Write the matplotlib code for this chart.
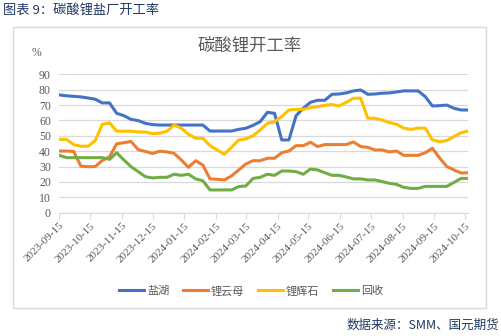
import numpy as np
import pandas as pd
import matplotlib
matplotlib.use('Agg')
import matplotlib.pyplot as plt
import matplotlib.dates as mdates
from matplotlib.patches import Rectangle

plt.rcParams['font.family'] = ['Noto Sans CJK SC', 'DejaVu Sans']

# weekly data, 2023-09-15 onward
dates = pd.date_range('2023-09-15', periods=58, freq='7D')

salt_lake = [76.6, 76.0, 75.7, 75.3, 74.6, 73.8, 71.4, 71.4, 64.6, 63.1,
             60.7, 59.9, 58.1, 57.3, 57.0, 57.0, 57.0, 57.0, 57.0, 57.0,
             57.0, 53.1, 53.1, 53.1, 53.1, 54.2, 54.9, 56.8, 59.2, 65.3,
             64.6, 47.3, 47.3, 63.1, 67.9, 71.8, 73.1, 73.1, 77.0, 77.2,
             77.9, 79.2, 79.8, 77.0, 77.2, 77.7, 77.9, 78.5, 79.2, 79.2,
             79.2, 75.5, 69.4, 69.6, 70.0, 67.9, 66.8, 66.8]
lepidolite = [40.1, 40.1, 39.8, 30.3, 29.9, 30.0, 34.0, 36.4, 44.8, 45.5,
              46.3, 41.0, 39.8, 38.5, 40.0, 39.5, 38.6, 34.3, 29.5, 33.8,
              31.0, 22.0, 21.7, 21.3, 23.9, 27.8, 31.7, 33.8, 33.8, 35.4,
              35.4, 39.0, 40.1, 43.6, 43.6, 45.8, 43.0, 44.3, 44.3, 44.3,
              44.3, 46.0, 43.0, 42.5, 40.8, 40.8, 39.5, 40.1, 37.3, 37.3,
              37.3, 39.0, 41.9, 35.6, 30.0, 27.8, 25.8, 26.0]
spodumene = [47.7, 47.7, 44.3, 43.2, 43.2, 46.9, 57.5, 58.4, 53.0, 53.0,
             53.0, 52.5, 52.5, 51.4, 51.7, 53.0, 57.0, 55.0, 51.0, 48.4,
             48.4, 43.6, 40.8, 38.0, 42.5, 47.3, 48.0, 50.0, 53.8, 58.1,
             59.2, 62.5, 66.8, 67.2, 67.2, 68.3, 69.0, 69.8, 70.3, 69.4,
             71.8, 74.4, 74.5, 61.4, 61.4, 60.3, 58.6, 57.5, 55.0, 54.2,
             55.0, 55.0, 47.3, 46.2, 46.9, 49.5, 52.0, 53.1]
recycling = [37.3, 35.8, 35.8, 35.8, 35.8, 35.8, 35.8, 34.7, 39.0, 34.3,
             29.9, 26.7, 23.4, 22.6, 23.0, 23.0, 25.0, 24.3, 25.0, 22.0,
             20.8, 14.8, 14.8, 14.8, 14.8, 17.0, 17.4, 22.3, 23.0, 25.0,
             24.3, 27.1, 27.1, 26.7, 25.0, 28.4, 27.8, 26.0, 24.3, 24.3,
             23.2, 22.0, 22.0, 21.3, 21.3, 20.2, 19.1, 18.4, 16.5, 15.8,
             15.8, 17.1, 17.1, 17.1, 17.1, 19.7, 22.3, 22.3]

series_names = ['盐湖', '锂云母', '锂辉石', '回收']
colors = ['#4472C4', '#ED7D31', '#FFC000', '#70AD47']

W, H = 502, 336
fig = plt.figure(figsize=(W / 100, H / 100), dpi=100)
ax = fig.add_axes([59.3 / W, 1 - 212.7 / H, (468.3 - 59.3) / W, (212.7 - 74.3) / H])

for vals, name, c in zip([salt_lake, lepidolite, spodumene, recycling], series_names, colors):
    ax.plot(dates, vals, color=c, lw=2.2, label=name, solid_joinstyle='round')

ax.set_ylim(0, 90)
ax.set_yticks(np.arange(0, 91, 10))
ax.set_xlim(dates[0], dates[-1])
ticks = pd.date_range('2023-09-01', '2024-10-01', freq='MS') + pd.Timedelta(days=14)
ax.set_xticks(ticks)
ax.xaxis.set_major_formatter(mdates.DateFormatter('%Y-%m-%d'))
for lab in ax.get_xticklabels():
    lab.set_rotation(45)
    lab.set_ha('right')
    lab.set_rotation_mode('anchor')
    lab.set_fontfamily('Liberation Serif')
    lab.set_fontsize(8)
    lab.set_color('#595959')
for lab in ax.get_yticklabels():
    lab.set_fontfamily('Liberation Serif')
    lab.set_fontsize(8.5)
    lab.set_color('#595959')

ax.grid(axis='y', color='#D9D9D9', lw=0.9)
ax.set_axisbelow(True)
for s in ['top', 'right', 'left']:
    ax.spines[s].set_visible(False)
ax.spines['bottom'].set_color('#D9D9D9')
ax.tick_params(axis='y', length=0, pad=6)
ax.tick_params(axis='x', length=4, color='#D9D9D9', pad=2)

fig.text(37 / W, 1 - 53 / H, '%', fontsize=8.5, color='#595959',
         family='Liberation Serif', ha='center', va='center')
fig.text(250 / W, 1 - 46 / H, '碳酸锂开工率', fontsize=12.5, color='#595959',
         ha='center', va='center')
fig.text(3 / W, 1 - 10 / H, '图表 9：碳酸锂盐厂开工率', fontsize=9.5, color='#1F3864',
         ha='left', va='center')
fig.text(499 / W, 1 - 325 / H, '数据来源：SMM、国元期货', fontsize=9, color='#1F3864',
         ha='right', va='center')

fig.legend(loc='center', bbox_to_anchor=(251 / W, 1 - 291 / H), ncol=4, frameon=False,
           fontsize=8, handlelength=2.3, handletextpad=0.25, columnspacing=1.2,
           labelcolor='#595959')

fig.patches.append(Rectangle((13 / W, 1 - 308 / H), (486 - 13) / W, (308 - 27) / H,
                             transform=fig.transFigure, fill=False, edgecolor='#D9D9D9', lw=1))

fig.savefig('out.png', dpi=100)
